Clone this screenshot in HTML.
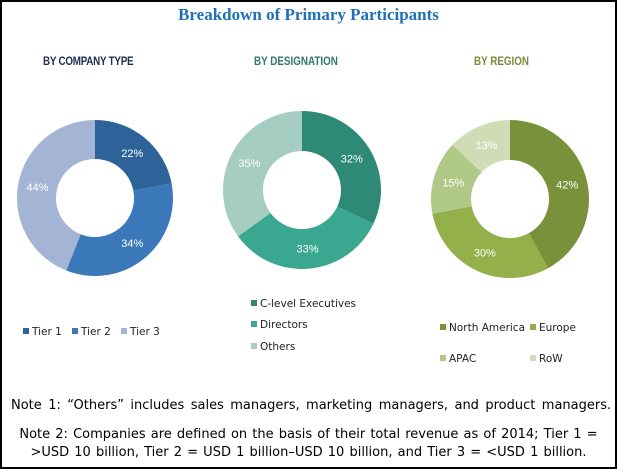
<!DOCTYPE html>
<html><head><meta charset="utf-8">
<style>
body{margin:0;background:#fff;}
#wrap{position:relative;width:613px;height:465px;border:2px solid #000;overflow:hidden;background:#fff;}
.t{position:absolute;white-space:nowrap;}
</style></head>
<body>
<div id="wrap">
<div class="t" style="left:0;width:613px;text-align:center;top:3px;font:bold 17px 'Liberation Serif',serif;color:#1f70b8;">Breakdown of Primary Participants</div>
<div class="t" style="left:41px;top:52px;font:bold 12px 'Liberation Sans',sans-serif;color:#1d2f4f;transform:scaleX(0.82);transform-origin:left;letter-spacing:-0.3px;">BY COMPANY TYPE</div>
<div class="t" style="left:252px;top:52px;font:bold 12px 'Liberation Sans',sans-serif;color:#2c7a66;transform:scaleX(0.82);transform-origin:left;">BY DESIGNATION</div>
<div class="t" style="left:472px;top:52px;font:bold 12px 'Liberation Sans',sans-serif;color:#7b8a3a;transform:scaleX(0.82);transform-origin:left;">BY REGION</div>
<svg id="svg" width="613" height="465" style="position:absolute;left:0;top:0;"></svg>
<div class="t" style="left:9px;top:396px;font:13px 'DejaVu Sans',sans-serif;word-spacing:2.3px;color:#000;">Note 1: “Others” includes sales managers, marketing managers, and product managers.</div>
<div class="t" style="left:0;width:613px;text-align:center;top:424px;font:13px 'DejaVu Sans',sans-serif;word-spacing:1px;color:#000;line-height:18px;">Note 2: Companies are defined on the basis of their total revenue as of 2014; Tier 1 =<br>&gt;USD 10 billion, Tier 2 = USD 1 billion–USD 10 billion, and Tier 3 = &lt;USD 1 billion.</div>
</div>
<script>
const companyLabels=["Tier 1","Tier 2","Tier 3"];
const companyValues=[22,34,44];
const designationLabels=["C-level Executives","Directors","Others"];
const designationValues=[32,33,35];
const regionLabels=["North America","Europe","APAC","RoW"];
const regionValues=[42,30,15,13];
const NS="http://www.w3.org/2000/svg";
const svg=document.getElementById('svg');
function pt(cx,cy,r,a){return [cx+r*Math.sin(a),cy-r*Math.cos(a)];}
function donut(name,cx,cy,R,r,vals,labels,colors,legend){
  const tot=vals.reduce((a,b)=>a+b,0);let a0=0;
  vals.forEach((v,i)=>{
    const a1=a0+v/tot*2*Math.PI;const lg=(a1-a0)>Math.PI?1:0;
    const p1=pt(cx,cy,R,a0),p2=pt(cx,cy,R,a1),p3=pt(cx,cy,r,a1),p4=pt(cx,cy,r,a0);
    const p=document.createElementNS(NS,'path');
    p.setAttribute('d',`M${p1}A${R},${R} 0 ${lg} 1 ${p2}L${p3}A${r},${r} 0 ${lg} 0 ${p4}Z`);
    p.setAttribute('fill',colors[i]);
    
    
    svg.appendChild(p);
    const m=pt(cx,cy,(R+r)/2,(a0+a1)/2);
    const t=document.createElementNS(NS,'text');
    t.setAttribute('x',m[0]);t.setAttribute('y',m[1]+4);
    t.setAttribute('text-anchor','middle');t.setAttribute('fill','#fff');
    t.setAttribute('font-family','Liberation Sans, sans-serif');t.setAttribute('font-size','11');
    t.textContent=v+'%';
    
    
    svg.appendChild(t);
    a0=a1;
  });
  legend.forEach((l,i)=>{
    const s=document.createElementNS(NS,'rect');
    s.setAttribute('x',l[0]);s.setAttribute('y',l[1]-7);s.setAttribute('width',6);s.setAttribute('height',6);s.setAttribute('fill',colors[i]);
    
    
    svg.appendChild(s);
    const t=document.createElementNS(NS,'text');
    t.setAttribute('x',l[0]+9);t.setAttribute('y',l[1]);
    t.setAttribute('font-family','DejaVu Sans, sans-serif');t.setAttribute('font-size','10.5');t.setAttribute('fill','#222');
    t.textContent=labels[i];
    
    
    svg.appendChild(t);
  });
}
donut('company',93,196,78,39,companyValues,companyLabels,['#2e6399','#3a78ba','#a3b4d4'],[[21,333],[70,333],[119,333]]);
donut('designation',300,188,79,39,designationValues,designationLabels,['#2e8a76','#3aa891','#a6cdc1'],[[249,305],[249,326],[249,348]]);
donut('region',508,197,79,39,regionValues,regionLabels,['#7a913c','#93b04a','#b0c987','#d0dcb6'],[[438,329],[528,329],[438,360],[528,360]]);
</script>
</body></html>
